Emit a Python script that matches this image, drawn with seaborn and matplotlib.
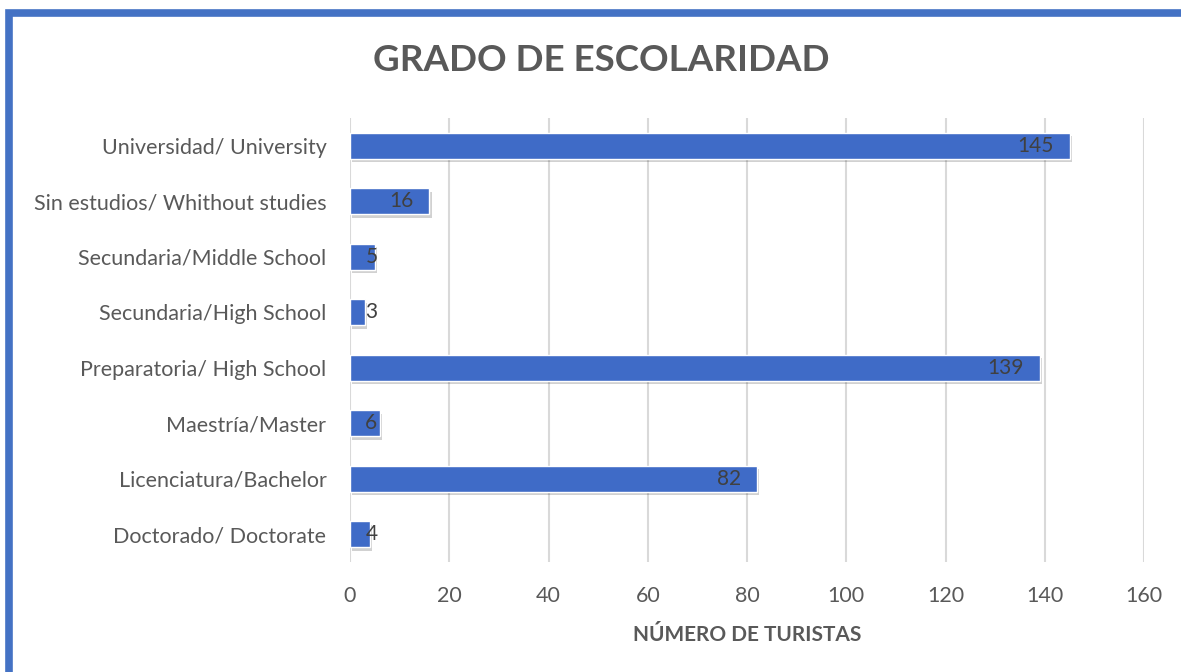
import pandas as pd
import matplotlib
matplotlib.use('Agg')
import matplotlib.pyplot as plt
import matplotlib.patheffects as pe
from matplotlib.patches import Rectangle
import seaborn as sns

# Data (top to bottom as shown)
categories = [
    'Universidad/ University',
    'Sin estudios/ Whithout studies',
    'Secundaria/Middle School',
    'Secundaria/High School',
    'Preparatoria/ High School',
    'Maestría/Master',
    'Licenciatura/Bachelor',
    'Doctorado/ Doctorate',
]
turistas = [145, 16, 5, 3, 139, 6, 82, 4]
x_ticks = [0, 20, 40, 60, 80, 100, 120, 140, 160]

df = pd.DataFrame({'grado': categories, 'turistas': turistas})

sns.set_style('white')
plt.rcParams['font.family'] = ['Lato', 'DejaVu Sans']

text_gray = '#595959'
bar_blue = '#3F6BC7'

fig = plt.figure(figsize=(11.81, 6.72), dpi=100)
ax = fig.add_axes([0.2964, 0.1637, 0.6723, 0.6607])

sns.barplot(data=df, y='grado', x='turistas', orient='h', color=bar_blue,
            saturation=1, width=0.47, ax=ax, zorder=3)

# soft drop shadow like the original
for bar in ax.patches:
    bar.set_path_effects([pe.SimplePatchShadow(offset=(1.5, -2.5), shadow_rgbFace='#000000', alpha=0.18),
                          pe.Normal()])

# value labels
for i, v in enumerate(turistas):
    if v < 10:
        ax.text(4.3, i, str(v), ha='center', va='center', fontsize=15, color='#404040', zorder=5)
    else:
        ax.text(v - 3.2, i, str(v), ha='right', va='center', fontsize=15, color='#404040', zorder=5)

ax.set_xlim(0, 160)
ax.set_ylim(7.5, -0.5)
ax.set_xticks(x_ticks)
ax.grid(axis='x', color='#D9D9D9', linewidth=1.5, zorder=0)
ax.grid(axis='y', visible=False)
for s in ax.spines.values():
    s.set_visible(False)
ax.tick_params(axis='both', length=0, labelsize=15.5, labelcolor=text_gray)
ax.tick_params(axis='x', pad=17)
ax.tick_params(axis='y', pad=17)
ax.set_ylabel('')
ax.set_xlabel('NÚMERO DE TURISTAS', fontsize=15, fontweight='bold', color=text_gray, labelpad=14)

fig.text(0.509, 0.91, 'GRADO DE ESCOLARIDAD', ha='center', va='center',
         fontsize=26.5, fontweight='bold', color=text_gray)

# blue frame around the chart
fig.patches.append(Rectangle((9.5 / 1181, -0.1), 1.2, 1 - 12.5 / 672 + 0.1,
                             transform=fig.transFigure, fill=False,
                             edgecolor='#4472C4', linewidth=5.5))

fig.savefig('out.png', dpi=100)
